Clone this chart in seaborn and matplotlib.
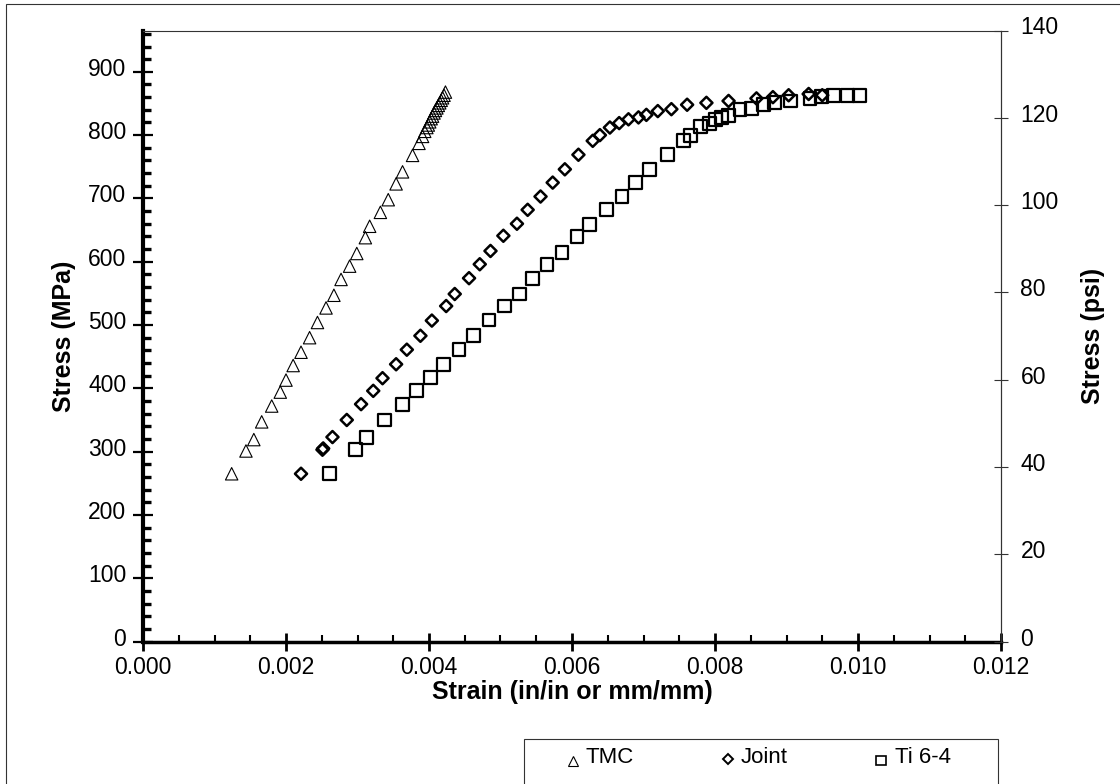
import numpy as np
import pandas as pd
import matplotlib
matplotlib.use("Agg")
import matplotlib.pyplot as plt
from matplotlib.lines import Line2D
from matplotlib.markers import MarkerStyle
from matplotlib.patches import Rectangle
from matplotlib.ticker import MultipleLocator, FormatStrFormatter
from matplotlib.transforms import Affine2D, ScaledTranslation
import seaborn as sns

sns.set_theme(style="white")
sns.set_style(rc={
    'axes.labelcolor': 'black',
    'text.color': 'black',
    'xtick.color': 'black',
    'ytick.color': 'black',
})
plt.rcParams['font.family'] = ['Liberation Sans', 'DejaVu Sans']

# strain (in/in) and stress (MPa)
tmc_strain = [0.00124, 0.00144, 0.00155, 0.00166, 0.00180, 0.00192, 0.00200, 0.00210,
              0.00221, 0.00233, 0.00244, 0.00256, 0.00267, 0.00277, 0.00289, 0.00299,
              0.00311, 0.00317, 0.00332, 0.00343, 0.00354, 0.00363, 0.00377, 0.00386,
              0.00391, 0.00394, 0.00397, 0.00399, 0.00401, 0.00403, 0.00405, 0.00407,
              0.00409, 0.00411, 0.00413, 0.00415, 0.00417, 0.00419, 0.00421, 0.00423]
tmc_stress = [265, 301, 319, 347, 372, 394, 413, 436,
              457, 480, 504, 527, 547, 572, 593, 613,
              638, 656, 678, 698, 723, 742, 768, 787,
              798, 806, 812, 816, 821, 826, 830, 835,
              839, 843, 847, 851, 855, 859, 863, 868]

joint_strain = [0.00221, 0.00251, 0.00252, 0.00265, 0.00285, 0.00305, 0.00322, 0.00335,
                0.00354, 0.00369, 0.00388, 0.00404, 0.00424, 0.00436, 0.00456, 0.00471,
                0.00486, 0.00504, 0.00523, 0.00538, 0.00556, 0.00573, 0.00590, 0.00609,
                0.00629, 0.00639, 0.00653, 0.00666, 0.00679, 0.00693, 0.00704, 0.00720,
                0.00739, 0.00761, 0.00788, 0.00819, 0.00858, 0.00881, 0.00903, 0.00931,
                0.00950]
joint_stress = [265, 303, 305, 323, 350, 375, 396, 416,
                438, 461, 483, 507, 530, 549, 574, 596,
                617, 641, 660, 682, 703, 725, 746, 769,
                791, 800, 812, 819, 825, 828, 832, 838,
                841, 848, 851, 854, 858, 860, 863, 865,
                863]

ti_strain = [0.00261, 0.00297, 0.00313, 0.00338, 0.00363, 0.00382, 0.00402, 0.00420,
             0.00442, 0.00462, 0.00484, 0.00506, 0.00527, 0.00545, 0.00565, 0.00586,
             0.00607, 0.00625, 0.00648, 0.00670, 0.00689, 0.00708, 0.00734, 0.00756,
             0.00766, 0.00780, 0.00792, 0.00801, 0.00809, 0.00819, 0.00835, 0.00851,
             0.00868, 0.00883, 0.00906, 0.00933, 0.00949, 0.00966, 0.00985, 0.01002]
ti_stress = [265, 303, 322, 350, 375, 397, 417, 438,
             461, 483, 508, 530, 549, 574, 596, 615,
             640, 659, 682, 703, 725, 746, 769, 791,
             800, 813, 819, 825, 828, 831, 840, 842,
             848, 851, 854, 858, 861, 863, 863, 863]

series_names = ['TMC', 'Joint', 'Ti 6-4']

df = pd.concat([
    pd.DataFrame({'strain': tmc_strain, 'stress': tmc_stress, 'series': 'TMC'}),
    pd.DataFrame({'strain': joint_strain, 'stress': joint_stress, 'series': 'Joint'}),
    pd.DataFrame({'strain': ti_strain, 'stress': ti_stress, 'series': 'Ti 6-4'}),
])

styles = {
    'TMC': dict(marker='^', s=80, linewidths=0.8),
    'Joint': dict(marker='D', s=38, linewidths=1.8),
    'Ti 6-4': dict(marker='s', s=85, linewidths=1.6),
}

fig = plt.figure(figsize=(11.2, 7.84), dpi=100)
ax = fig.add_axes([143/1120, 1 - 641.5/784, 858/1120, 611/784])

for name in series_names:
    sub = df[df['series'] == name]
    sns.scatterplot(data=sub, x='strain', y='stress', ax=ax, facecolor='none',
                    edgecolor='black', legend=False, **styles[name])

fs = 16.5
ax.set_xlim(0, 0.012)
ax.set_ylim(0, 140 * 6.895)
ax.xaxis.set_major_locator(MultipleLocator(0.002))
ax.xaxis.set_minor_locator(MultipleLocator(0.0005))
ax.xaxis.set_major_formatter(FormatStrFormatter('%.3f'))
ax.yaxis.set_major_locator(MultipleLocator(100))
ax.yaxis.set_minor_locator(MultipleLocator(20))

ax.tick_params(axis='x', which='major', direction='inout', length=13, width=2,
               labelsize=fs, pad=4, bottom=True)
ax.tick_params(axis='x', which='minor', direction='in', length=5, width=1.5,
               bottom=True)
ax.tick_params(axis='y', which='major', direction='inout', length=14, width=1.6,
               labelsize=fs, pad=5, left=True)
ax.tick_params(axis='y', which='minor', direction='in', length=6, width=2.4,
               left=True)

for side in ['top', 'right']:
    ax.spines[side].set_linewidth(0.8)
    ax.spines[side].set_color('#333333')
ax.spines['left'].set_linewidth(3)
ax.spines['left'].set_color('black')
ax.spines['bottom'].set_linewidth(2.5)
ax.spines['bottom'].set_color('black')

ax.set_xlabel('Strain (in/in or mm/mm)', fontsize=18, fontweight='bold', labelpad=1)
ax.set_ylabel('Stress (MPa)', fontsize=18, fontweight='bold', labelpad=9)

ax2 = ax.twinx()
ax2.set_ylim(0, 140)
ax2.yaxis.set_major_locator(MultipleLocator(20))
ax2.tick_params(axis='y', which='major', direction='inout', length=10, width=0.8,
                color='#333333', labelsize=fs, pad=9, right=True)
for side in ['left', 'bottom', 'top']:
    ax2.spines[side].set_visible(False)
ax2.spines['right'].set_linewidth(0.8)
ax2.spines['right'].set_color('#333333')
ax2.set_ylabel('Stress (psi)', fontsize=18, fontweight='bold', labelpad=16)

# value labels on both stress axes sit a few pixels above their ticks
lift = ScaledTranslation(0, 5/100, fig.dpi_scale_trans)
for lab in ax.get_yticklabels() + ax2.get_yticklabels():
    lab.set_transform(lab.get_transform() + lift)

# legend, markers sit low next to the text
down = Affine2D().translate(0, -0.6)
handles = [
    Line2D([], [], ls='', marker=MarkerStyle('^', transform=down), ms=7,
           mfc='none', mec='black', mew=0.8),
    Line2D([], [], ls='', marker=MarkerStyle('D', transform=down), ms=4.8,
           mfc='none', mec='black', mew=1.4),
    Line2D([], [], ls='', marker=MarkerStyle('s', transform=down), ms=6.5,
           mfc='none', mec='black', mew=1.2),
]
fig.legend(handles, series_names, ncol=3, loc='upper left', frameon=False,
           bbox_to_anchor=(566/1120, 1 - 747/784), borderaxespad=0, borderpad=0,
           fontsize=16, handlelength=0.6, handletextpad=0.3, columnspacing=3.9)
fig.patches.append(Rectangle((524/1120, -0.1), 474/1120, 0.1 + (784 - 739)/784,
                             transform=fig.transFigure, fill=False,
                             edgecolor='#333333', linewidth=0.8))
# outer frame of the page
fig.patches.append(Rectangle((6/1120, -0.1), 1.2, 0.1 + 1 - 4/784,
                             transform=fig.transFigure, fill=False,
                             edgecolor='#333333', linewidth=0.8))

fig.savefig('out.png', dpi=100)
